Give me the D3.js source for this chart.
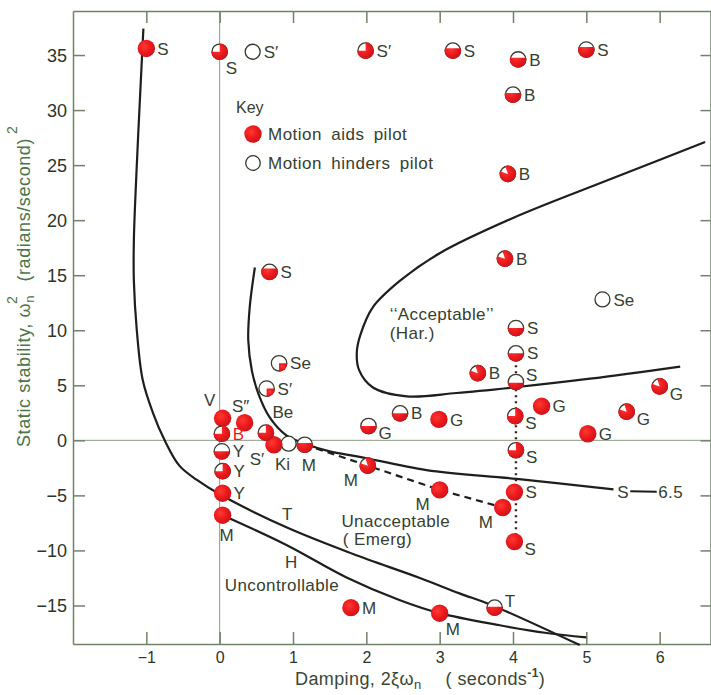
<!DOCTYPE html>
<html>
<head>
<meta charset="utf-8">
<script src="https://cdn.jsdelivr.net/npm/d3@7"></script>
<style>
  body { margin: 0; background: #fff; }
  #chart { width: 711px; height: 695px; }
  text { font-family: "Liberation Sans", Arial, sans-serif; }
</style>
</head>
<body>
<div id="chart"></div>
<script>
/* global d3 */

// ticks
const xTicks = [-1, 0, 1, 2, 3, 4, 5, 6];
const yTicks = [-15, -10, -5, 0, 5, 10, 15, 20, 25, 30, 35];

// flight test points: mark = how much of the symbol is red
const points = [
  { x: -1.0, y: 35.6, label: 'S', mark: 'full', at: 'r' },
  { x: 0.0, y: 35.3, label: 'S', mark: 'pie', red: 0.75, at: 'rb' },
  { x: 0.45, y: 35.3, label: 'S′', mark: 'open', at: 'r' },
  { x: 1.99, y: 35.4, label: 'S′', mark: 'pie', red: 0.75, at: 'r' },
  { x: 3.18, y: 35.4, label: 'S', mark: 'level', red: 0.65, at: 'r' },
  { x: 4.07, y: 34.6, label: 'B', mark: 'level', red: 0.6, at: 'r' },
  { x: 5.0, y: 35.5, label: 'S', mark: 'level', red: 0.65, at: 'r' },
  { x: 4.0, y: 31.4, label: 'B', mark: 'level', red: 0.6, at: 'r' },
  { x: 3.93, y: 24.2, label: 'B', mark: 'pie', red: 0.85, at: 'r' },
  { x: 3.89, y: 16.5, label: 'B', mark: 'pie', red: 0.85, at: 'r' },
  { x: 0.68, y: 15.3, label: 'S', mark: 'level', red: 0.7, at: 'r' },
  { x: 5.22, y: 12.8, label: 'Se', mark: 'open', at: 'r' },
  { x: 4.04, y: 10.2, label: 'S', mark: 'level', red: 0.5, at: 'r' },
  { x: 4.04, y: 7.9, label: 'S', mark: 'level', red: 0.5, at: 'r' },
  { x: 4.04, y: 5.3, label: 'S', mark: 'level', red: 0.45, at: 'ru' },
  { x: 0.81, y: 7.0, label: 'Se', mark: 'pie', red: 0.25, at: 'r' },
  { x: 0.64, y: 4.7, label: 'S′', mark: 'pie', red: 0.25, at: 'r' },
  { x: 3.52, y: 6.1, label: 'B', mark: 'pie', red: 0.85, at: 'r' },
  { x: 2.03, y: 1.3, label: 'G', mark: 'level', red: 0.5, at: 'rd' },
  { x: 2.46, y: 2.45, label: 'B', mark: 'level', red: 0.5, at: 'r' },
  { x: 2.99, y: 1.9, label: 'G', mark: 'full', at: 'r' },
  { x: 4.03, y: 2.2, label: 'S', mark: 'pie', red: 0.75, at: 'rd' },
  { x: 4.39, y: 3.1, label: 'G', mark: 'full', at: 'r' },
  { x: 5.55, y: 2.6, label: 'G', mark: 'pie', red: 0.85, at: 'rd' },
  { x: 6.0, y: 4.9, label: 'G', mark: 'pie', red: 0.85, at: 'rd' },
  { x: 5.02, y: 0.6, label: 'G', mark: 'full', at: 'r' },
  { x: 4.04, y: -0.9, label: 'S', mark: 'pie', red: 0.75, at: 'rd' },
  { x: 4.02, y: -4.7, label: 'S', mark: 'full', at: 'r' },
  { x: 4.02, y: -9.2, label: 'S', mark: 'full', at: 'rd' },
  { x: 3.86, y: -6.1, label: 'M', mark: 'full', at: 'lb' },
  { x: 3.0, y: -4.5, label: 'M', mark: 'full', at: 'lb' },
  { x: 2.02, y: -2.3, label: 'M', mark: 'pie', red: 0.85, at: 'lb' },
  { x: 1.16, y: -0.4, label: 'M', mark: 'level', red: 0.6, at: 'b' },
  { x: 0.94, y: -0.3, label: 'Ki', mark: 'open', at: 'bl' },
  { x: 0.74, y: -0.4, label: 'S′', mark: 'full', at: 'lb' },
  { x: 0.63, y: 0.7, label: 'Be', mark: 'pie', red: 0.75, at: 'tr' },
  { x: 0.34, y: 1.6, label: 'S″', mark: 'full', at: 't' },
  { x: 0.04, y: 2.0, label: 'V', mark: 'full', at: 'tl' },
  { x: 0.03, y: 0.6, label: 'B', mark: 'pie', red: 0.75, at: 'r', redLabel: true },
  { x: 0.03, y: -1.0, label: 'Y', mark: 'level', red: 0.5, at: 'r' },
  { x: 0.04, y: -2.8, label: 'Y', mark: 'pie', red: 0.75, at: 'r' },
  { x: 0.04, y: -4.8, label: 'Y', mark: 'full', at: 'r' },
  { x: 0.04, y: -6.8, label: 'M', mark: 'full', at: 'b' },
  { x: 1.79, y: -15.2, label: 'M', mark: 'full', at: 'r' },
  { x: 3.0, y: -15.7, label: 'M', mark: 'full', at: 'rb' },
  { x: 3.75, y: -15.2, label: 'T', mark: 'level', red: 0.55, at: 'ru' }
];

// boundary curves
const curveT = [[-1.04, 37.4], [-1.08, 32], [-1.13, 25], [-1.17, 18.2], [-1.17, 14.5], [-1.13, 10],
  [-1.05, 5.5], [-0.91, 2.5], [-0.75, 0], [-0.55, -2.3], [-0.31, -3.6], [0, -4.9], [0.91, -7.9],
  [1.81, -10.3], [2.73, -12.5], [3.27, -13.9], [3.72, -15.0], [4.91, -18.6]];
const curveH = [[0.04, -6.8], [0.91, -9.5], [1.73, -12.45], [2.45, -14.5], [3.0, -15.7], [3.82, -16.8],
  [4.46, -17.5], [5.0, -17.9]];
const curveS65 = [[0.48, 15.7], [0.41, 12.1], [0.39, 9.1], [0.44, 6.3], [0.53, 4.2], [0.68, 2.1], [0.9, 0.5],
  [1.2, -0.4], [1.5, -1.0], [1.91, -1.5], [2.82, -2.7], [4.05, -3.5], [5.37, -4.45]];
const curveAcceptable = [[6.62, 27.1], [5.28, 23.6], [4.0, 20.2], [3.0, 17.0], [2.46, 14.5], [2.09, 12.1],
  [1.92, 9.6], [1.87, 8.0], [1.9, 6.4], [2.09, 4.8], [2.55, 4.0], [3.23, 4.3], [4.0, 4.8], [5.05, 5.6], [6.28, 6.7]];
const dashedM = [[1.16, -0.4], [2.02, -2.3], [3.0, -4.5], [3.86, -6.1]];
const dottedS = [[4.04, 7.9], [4.04, -9.2]];

// region labels (anchored in data units)
const notes = [
  { x: 2.32, y: 10.9, text: '‘‘Acceptable’’' },
  { x: 2.32, y: 9.25, text: '(Har.)' },
  { x: 1.66, y: -7.9, text: 'Unacceptable' },
  { x: 1.68, y: -9.5, text: '( Emerg)' },
  { x: 0.85, y: -7.2, text: 'T' },
  { x: 0.89, y: -11.6, text: 'H' },
  { x: 0.07, y: -13.7, text: 'Uncontrollable' },
  { x: 5.42, y: -5.2, text: 'S' },
  { x: 5.98, y: -5.2, text: '6.5' }
];
const tail65 = [[5.6, -4.62], [5.96, -4.66]];

function drawChart(el) {
  const $chart = d3.select(el);

  // dimensions
  const WIDTH = 711;
  const HEIGHT = 695;
  const MARGIN_TOP = 11;
  const MARGIN_LEFT = 73;
  const MARGIN_BOTTOM = 51;
  const RED = '#ec1a1f';
  const INK = '#35402f';
  const AXIS = '#70836a';

  const x = d3.scaleLinear().domain([-2, 6.7]).range([MARGIN_LEFT, WIDTH]);
  const y = d3.scaleLinear().domain([-18.5, 39.0]).range([HEIGHT - MARGIN_BOTTOM, MARGIN_TOP]);

  const $svg = $chart.append('svg').attr('width', WIDTH).attr('height', HEIGHT);
  const $defs = $svg.append('defs');

  // a little gloss on the printed dots
  const grad = $defs.append('radialGradient').attr('id', 'gloss')
    .attr('cx', '38%').attr('cy', '38%').attr('r', '65%');
  grad.append('stop').attr('offset', '0%').attr('stop-color', '#ff3a30');
  grad.append('stop').attr('offset', '55%').attr('stop-color', RED);
  grad.append('stop').attr('offset', '100%').attr('stop-color', '#cc1418');
  const FILL = 'url(#gloss)';

  // zero lines
  $svg.append('line')
    .attr('x1', x(0)).attr('x2', x(0)).attr('y1', y.range()[1]).attr('y2', y.range()[0])
    .attr('stroke', '#8d9c85').attr('stroke-width', 1);
  $svg.append('line')
    .attr('x1', MARGIN_LEFT).attr('x2', WIDTH).attr('y1', y(0)).attr('y2', y(0))
    .attr('stroke', '#8d9c85').attr('stroke-width', 1);

  // axes (ticks point inward)
  const $axis = $svg.append('g').attr('class', 'g-axis');
  $axis.append('g')
    .attr('transform', `translate(${MARGIN_LEFT},0)`)
    .call(d3.axisLeft(y).tickValues(yTicks).tickSize(-12).tickSizeOuter(0).tickPadding(6))
    .call(g => g.selectAll('text').attr('font-size', 18).attr('dy', '0.36em'));
  $axis.append('g')
    .attr('transform', `translate(0,${y.range()[0]})`)
    .call(d3.axisBottom(x).tickValues(xTicks).tickSize(-12).tickSizeOuter(0).tickPadding(8))
    .call(g => g.selectAll('text').attr('font-size', 16));
  $axis.append('g')
    .attr('transform', `translate(0,${MARGIN_TOP})`)
    .call(d3.axisTop(x).tickValues(xTicks).tickSize(-12).tickSizeOuter(0).tickFormat(''));
  $axis.append('g')
    .attr('transform', `translate(${WIDTH - 0.5},0)`)
    .call(d3.axisRight(y).tickValues(yTicks).tickSize(-10).tickSizeOuter(0).tickFormat(''));
  $axis.selectAll('path, line').attr('stroke', AXIS).attr('stroke-width', 1.5);
  $axis.selectAll('text').attr('fill', '#2c3527').attr('font-family', '"Liberation Sans", Arial, sans-serif');

  // curves
  const line = d3.line().x(d => x(d[0])).y(d => y(d[1])).curve(d3.curveCatmullRom.alpha(0.5));
  const straight = d3.line().x(d => x(d[0])).y(d => y(d[1]));
  const $vis = $svg.append('g').attr('class', 'g-vis');
  [curveT, curveH, curveS65, curveAcceptable].forEach(c => {
    $vis.append('path').attr('d', line(c))
      .attr('fill', 'none').attr('stroke', '#1c1f1a').attr('stroke-width', 2.2);
  });
  $vis.append('path').attr('d', straight(dashedM))
    .attr('fill', 'none').attr('stroke', '#1c1f1a').attr('stroke-width', 2.2)
    .attr('stroke-dasharray', '7,5');
  $vis.append('path').attr('d', straight(dottedS))
    .attr('fill', 'none').attr('stroke', '#3a1f1a').attr('stroke-width', 2.4)
    .attr('stroke-dasharray', '2,4');
  $vis.append('path').attr('d', straight(tail65))
    .attr('fill', 'none').attr('stroke', '#1c1f1a').attr('stroke-width', 2);

  // markers
  const R = 8.3;
  const arc = d3.arc().innerRadius(0).outerRadius(R);
  const $pts = $vis.selectAll('g.pt')
    .data(points)
    .join('g')
    .attr('class', 'pt')
    .attr('transform', d => `translate(${x(d.x)},${y(d.y)})`);

  $pts.each(function (d, i) {
    const $g = d3.select(this);
    if (d.mark === 'full') {
      $g.append('circle').attr('r', R + 0.4).attr('fill', FILL);
      return;
    }
    if (d.mark === 'open') {
      $g.append('circle').attr('r', R - 0.8).attr('fill', '#fff')
        .attr('stroke', '#2f3a2a').attr('stroke-width', 1.3);
      return;
    }
    $g.append('circle').attr('r', R - 0.6).attr('fill', '#fff')
      .attr('stroke', '#3a3a2e').attr('stroke-width', 1.3);
    if (d.mark === 'level') {
      const id = `clip-${i}`;
      $defs.append('clipPath').attr('id', id)
        .append('rect')
        .attr('x', -R - 1).attr('width', 2 * R + 2)
        .attr('y', R - 2 * R * d.red).attr('height', 2 * R * d.red + 1);
      $g.append('circle').attr('r', R).attr('fill', FILL).attr('clip-path', `url(#${id})`);
    } else {
      // red wedge centred on the lower right
      const mid = 0.75 * Math.PI;
      const half = d.red * Math.PI;
      $g.append('path')
        .attr('d', arc({ startAngle: mid - half, endAngle: mid + half }))
        .attr('fill', FILL);
    }
  });

  // point labels
  const OFFSET = {
    r: [11, 0, 'start'], rd: [10, 7, 'start'], ru: [10, -7, 'start'], rb: [6, 16, 'start'],
    b: [4, 20, 'middle'], bl: [-6, 20, 'middle'], lb: [-17, 14, 'middle'], t: [-4, -17, 'middle'],
    tr: [17, -21, 'middle'], tl: [-13, -18, 'middle']
  };
  $vis.selectAll('text.pt-label')
    .data(points)
    .join('text')
    .attr('class', 'pt-label')
    .attr('x', d => x(d.x) + OFFSET[d.at][0])
    .attr('y', d => y(d.y) + OFFSET[d.at][1])
    .attr('dy', '0.36em')
    .attr('text-anchor', d => OFFSET[d.at][2])
    .attr('font-size', 17)
    .attr('fill', d => (d.redLabel ? RED : INK))
    .text(d => d.label);

  // region notes
  $vis.selectAll('text.note')
    .data(notes)
    .join('text')
    .attr('class', 'note')
    .attr('x', d => x(d.x))
    .attr('y', d => y(d.y))
    .attr('font-size', 17)
    .attr('letter-spacing', 0.4)
    .attr('fill', INK)
    .text(d => d.text);

  // key
  const $key = $svg.append('g').attr('class', 'g-key');
  $key.append('text').attr('x', 236).attr('y', 113).attr('font-size', 16).attr('fill', INK).text('Key');
  $key.append('circle').attr('cx', 253).attr('cy', 134).attr('r', R + 0.4).attr('fill', FILL);
  $key.append('circle').attr('cx', 253).attr('cy', 163).attr('r', R - 1)
    .attr('fill', '#fff').attr('stroke', '#2f3a2a').attr('stroke-width', 1.3);
  $key.append('text').attr('x', 268).attr('y', 140).attr('font-size', 17)
    .attr('letter-spacing', 0.5).attr('word-spacing', 4).attr('fill', INK).text('Motion aids pilot');
  $key.append('text').attr('x', 268).attr('y', 169).attr('font-size', 17)
    .attr('letter-spacing', 0.5).attr('word-spacing', 4).attr('fill', INK).text('Motion hinders pilot');

  // axis titles
  const $xt = $svg.append('text').attr('x', 295).attr('y', 685)
    .attr('font-size', 18).attr('fill', '#3a4735').attr('letter-spacing', 0.4);
  $xt.append('tspan').text('Damping, 2ξω');
  $xt.append('tspan').attr('font-size', 13).attr('dy', 4).text('n');
  $xt.append('tspan').attr('dy', -4).attr('dx', 24).text('( seconds');
  $xt.append('tspan').attr('font-size', 12).attr('font-weight', 'bold').attr('dy', -8).text('-1');
  $xt.append('tspan').attr('dy', 8).text(')');

  const $yt = $svg.append('text').attr('transform', 'translate(30,447) rotate(-90)')
    .attr('font-size', 18).attr('fill', '#4a7547').attr('letter-spacing', 0.6);
  $yt.append('tspan').text('Static stability, ω');
  $yt.append('tspan').attr('font-size', 13).attr('dy', 4).text('n');
  $yt.append('tspan').attr('font-size', 14).attr('dy', -17).attr('dx', -9).text('2');
  $yt.append('tspan').attr('dy', 13).attr('dx', 14).text('(radians/second)');
  $yt.append('tspan').attr('font-size', 14).attr('dy', -13).attr('dx', 4).text('2');
}

drawChart('#chart');
</script>
</body>
</html>
